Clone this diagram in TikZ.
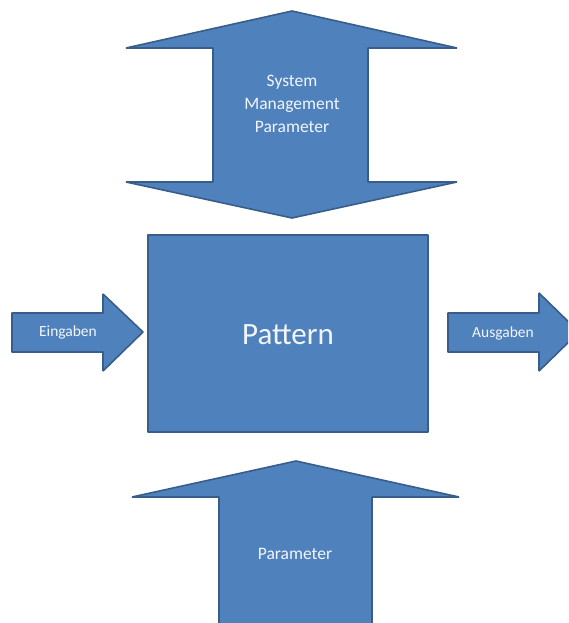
\documentclass[tikz,border=0pt]{standalone}
\usepackage{fontspec}
\setmainfont{Carlito}
\definecolor{ofill}{HTML}{4F81BD}
\definecolor{oline}{HTML}{385D8A}
\definecolor{otext}{HTML}{F2F6FB}
\tikzset{
  shapebox/.style={fill=ofill, draw=oline, line width=1.6pt, line join=bevel},
  lbl/.style={text=otext, align=center, inner sep=0pt, font=\fontsize{#1}{23}\selectfont},
}
\begin{document}
\begin{tikzpicture}[x=1pt,y=-1pt]
\useasboundingbox (0,0) rectangle (568,623);
\clip (0,0) rectangle (568,623);
% top double arrow
\draw[shapebox] (292,11) -- (457,48) -- (368,48) -- (368,182) -- (457,182)
  -- (292,218) -- (126,182) -- (213,182) -- (213,48) -- (126,48) -- cycle;
\node[lbl=17.5] (sys) at (292,104) {System\\Management\\Parameter};
% main box
\node[shapebox, minimum width=280pt, minimum height=197pt, inner sep=0pt] (pat) at (288,333.5) {};
\node[lbl=31] (pattxt) at (288,335) {Pattern};
% Eingaben arrow
\draw[shapebox] (12,313) -- (103,313) -- (103,294) -- (143,332) -- (103,371)
  -- (103,352) -- (12,352) -- cycle;
\node[lbl=15.5] (ein) at (68,332.5) {Eingaben};
% Ausgaben arrow
\draw[shapebox] (448,313) -- (539,313) -- (539,293) -- (579,332) -- (539,371)
  -- (539,352) -- (448,352) -- cycle;
\node[lbl=15.5] (aus) at (503,333) {Ausgaben};
% bottom arrow
\draw[shapebox] (296,461) -- (459,497) -- (372,497) -- (372,640) -- (219,640)
  -- (219,497) -- (132,497) -- cycle;
\node[lbl=17.5] (par) at (295,554) {Parameter};
\end{tikzpicture}
\end{document}
